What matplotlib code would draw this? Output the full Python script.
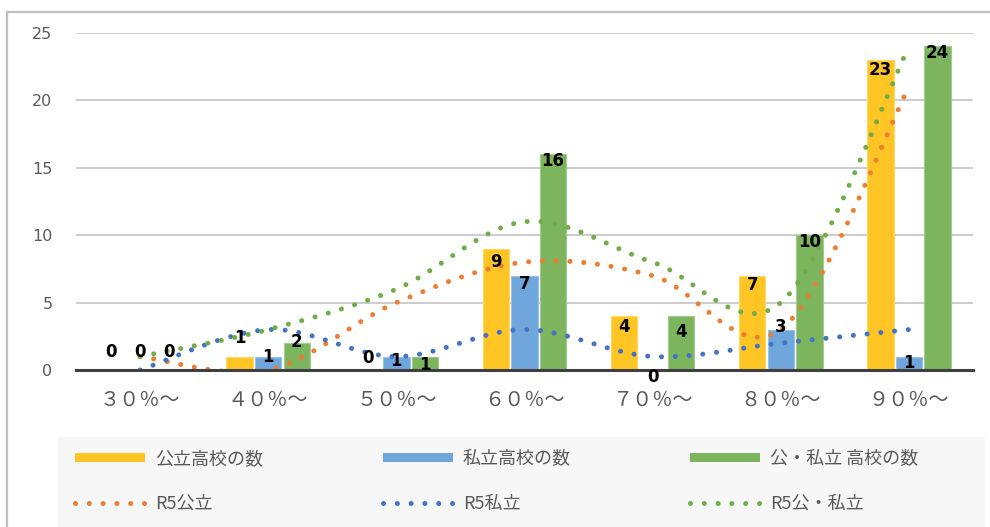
import numpy as np
import matplotlib
matplotlib.use("Agg")
import matplotlib.pyplot as plt
from matplotlib.lines import Line2D
from matplotlib.patches import Rectangle

plt.rcParams['font.family'] = ['Noto Sans CJK JP', 'DejaVu Sans']

# ---- data ----
categories = ['３０％〜', '４０％〜', '５０％〜', '６０％〜', '７０％〜', '８０％〜', '９０％〜']
public_counts = [0, 1, 0, 9, 4, 7, 23]
private_counts = [0, 1, 1, 7, 0, 3, 1]
total_counts = [0, 2, 1, 16, 4, 10, 24]
r5_public = [1, 0, 5, 8, 7, 3, 21]
r5_private = [0, 3, 1, 3, 1, 2, 3]
r5_total = [1, 3, 6, 11, 8, 5, 24]
bar_names = ['公立高校の数', '私立高校の数', '公・私立 高校の数']
line_names = ['R5公立', 'R5私立', 'R5公・私立']
y_ticks = [0, 5, 10, 15, 20, 25]

# ---- styles ----
bar_colors = ['#FFC524', '#6FA6DC', '#7DB45E']
bar_edges = ['#FFD866', '#9CC2E8', '#A3CB8C']
line_colors = ['#ED7D31', '#4472C4', '#70AD47']
# label vertical offsets (points) relative to bar top
label_offsets = [
    [13, 13, 8.5, -9.5, -8, -7, -7],
    [13, 0, -3.5, -6, -5, 2, -5],
    [13, 0.5, -6, -4.5, -11.5, -5, -5],
]

W, H = 990, 527
fig = plt.figure(figsize=(W / 100, H / 100), dpi=100)
ax = fig.add_axes([76 / W, 1 - 370 / H, (973 - 76) / W, (370 - 33) / H])

x = np.arange(len(categories))
bw = 0.207
step = 0.223
series = [public_counts, private_counts, total_counts]
bars = []
for k, vals in enumerate(series):
    b = ax.bar(x + (k - 1) * step, vals, bw, color=bar_colors[k],
               edgecolor=bar_edges[k], linewidth=0.8, zorder=2, label=bar_names[k])
    bars.append(b)


def smooth(yv, n=60):
    pts = np.column_stack([np.arange(len(yv), dtype=float), np.asarray(yv, float)])
    P = np.vstack([pts[0], pts, pts[-1]])
    out = []
    t = np.linspace(0, 1, n)[:, None]
    for i in range(1, len(P) - 2):
        p0, p1, p2, p3 = P[i - 1], P[i], P[i + 1], P[i + 2]
        c1 = p1 + (p2 - p0) / 6
        c2 = p2 - (p3 - p1) / 6
        seg = ((1 - t) ** 3) * p1 + 3 * ((1 - t) ** 2) * t * c1 + 3 * (1 - t) * t ** 2 * c2 + t ** 3 * p2
        out.append(seg if i == 1 else seg[1:])
    s = np.vstack(out)
    return s[:, 0], s[:, 1]


lines = []
for k, vals in enumerate([r5_public, r5_private, r5_total]):
    sx, sy = smooth(vals)
    ln, = ax.plot(sx, sy, color=line_colors[k], lw=3.6, linestyle=(0, (0.01, 2.75)),
                  dash_capstyle='round', zorder=3, label=line_names[k])
    lines.append(ln)

for k, vals in enumerate(series):
    for i, v in enumerate(vals):
        ax.annotate(str(v), (x[i] + (k - 1) * step, v), xytext=(0, label_offsets[k][i]),
                    textcoords='offset points', ha='center', va='center',
                    fontsize=12, fontweight='bold', family='DejaVu Sans',
                    color='black', zorder=5)

ax.set_xlim(-0.5, len(categories) - 0.5)
ax.set_ylim(0, 25)
ax.set_yticks(y_ticks)
ax.set_xticks(x)
ax.set_xticklabels(categories)
ax.tick_params(axis='both', length=0, colors='#595959')
ax.tick_params(axis='x', pad=14, labelsize=14.5)
ax.tick_params(axis='y', pad=17, labelsize=11.5)
for lab in ax.get_yticklabels():
    lab.set_family('DejaVu Sans')
ax.yaxis.grid(True, color='#C8C8C8', lw=1.3, zorder=0)
ax.set_axisbelow(True)
for s in ['top', 'right', 'left']:
    ax.spines[s].set_visible(False)
ax.spines['bottom'].set_color('#404040')
ax.spines['bottom'].set_linewidth(2.2)
ax.spines['bottom'].set_zorder(4)

# outer chart frame (left and top)
fig.add_artist(Line2D([7 / W, 7 / W], [0, 1 - 12 / H], transform=fig.transFigure,
                      color='#BFBFBF', lw=1.6))
fig.add_artist(Line2D([7 / W, 1], [1 - 12 / H, 1 - 12 / H], transform=fig.transFigure,
                      color='#BFBFBF', lw=1.6))

# legend background
fig.add_artist(Rectangle((58 / W, 0), (985 - 58) / W, (527 - 437) / H,
                         transform=fig.transFigure, facecolor='#F7F7F7',
                         edgecolor='none', zorder=0))

handles = [bars[0], lines[0], bars[1], lines[1], bars[2], lines[2]]
labels = [bar_names[0], line_names[0], bar_names[1], line_names[1], bar_names[2], line_names[2]]
leg = fig.legend(handles, labels, ncol=3, loc='upper left',
                 bbox_to_anchor=(66 / W, 1 - 441 / H), frameon=False,
                 fontsize=13, handlelength=3.9, handleheight=0.35,
                 handletextpad=0.55, columnspacing=6.6, labelspacing=1.48,
                 borderpad=0, labelcolor='#595959')
for h in leg.legend_handles:
    if isinstance(h, Rectangle):
        h.set_edgecolor('none')

fig.savefig('out.png', dpi=100)
